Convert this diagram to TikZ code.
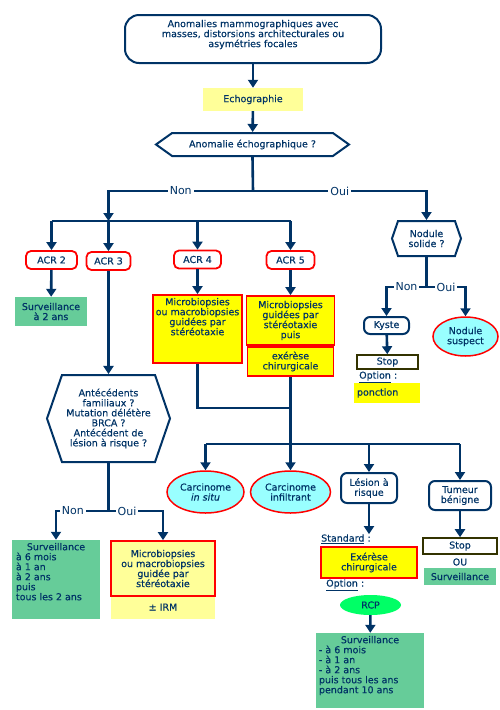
\documentclass[tikz,border=0pt]{standalone}
\usepackage{fontspec}
\setmainfont{DejaVu Sans}
\newfontfamily\boxface{DejaVu Sans}[FakeBold=0.4]
\usetikzlibrary{arrows.meta, shapes.geometric, shapes.symbols}
\definecolor{navy}{HTML}{003366}
\definecolor{lightyellow}{HTML}{FFFF99}
\definecolor{brightyellow}{HTML}{FFFF00}
\definecolor{seagreen}{HTML}{66CC99}
\definecolor{lightcyan}{HTML}{99FFFF}
\definecolor{rcpgreen}{HTML}{00FF66}
\definecolor{darkolive}{HTML}{333300}
\newcommand{\boxfont}{\boxface\fontsize{9.5}{10}\selectfont}
\newcommand{\labfont}{\fontsize{11}{12}\selectfont}

\begin{document}
\begin{tikzpicture}[x=1pt, y=-1pt,
  every node/.style={font=\boxfont, text=navy, align=center, inner sep=0pt},
  line/.style={navy, line width=2.6pt},
  arr/.style={line, -{Triangle[width=10pt,length=8pt]}},
  lab/.style={font=\labfont, fill=white, inner xsep=2pt, inner ysep=1pt},
  acrbox/.style={draw=red, line width=1.8pt, rounded corners=5pt, fill=white, minimum height=18pt},
  navybox/.style={draw=navy, line width=2pt, rounded corners=6pt, fill=white},
  redbox/.style={draw=red, line width=1.8pt, fill=brightyellow},
  hexa/.style={signal, signal to=east and west, draw=navy, line width=2pt, fill=white},
  oval/.style={ellipse, draw=red, line width=1.5pt, fill=lightcyan},
  stopbox/.style={draw=darkolive, line width=1.6pt, fill=white},
  greenbox/.style={fill=seagreen}]
  \useasboundingbox (0,0) rectangle (500,710);

  \node (top) at (253,39) [draw=navy, line width=2pt, rounded corners=14pt, minimum width=256pt, minimum height=48pt]
    {Anomalies mammographiques avec\\masses, distorsions architecturales ou\\asymétries focales\\[1pt]};
  \node (echo) at (253,99.5) [fill=lightyellow, minimum width=100pt, minimum height=23pt] {Echographie};
  \node (anom) at (252.5,144.5) [hexa, signal pointer angle=71, minimum width=193pt, minimum height=23pt] {Anomalie échographique ?};

  \node (acr2) at (51.5,260) [acrbox, minimum width=51pt] {ACR 2};
  \node (acr3) at (108.5,261) [acrbox, minimum width=44pt] {ACR 3};
  \node (acr4) at (197.5,259.5) [acrbox, minimum width=47pt] {ACR 4};
  \node (acr5) at (290.5,260) [acrbox, minimum width=48pt] {ACR 5};
  \node (nodule) at (426.5,238.5) [hexa, signal pointer angle=142, minimum width=69pt, minimum height=35pt] {Nodule\\solide ?};

  \node (surv2) at (51,311.5) [greenbox, minimum width=72pt, minimum height=29pt] {Surveillance\\à 2 ans};
  \node (micro4) at (197.5,329) [redbox, minimum width=89pt, minimum height=68pt]
    {\parbox[c][62pt][t]{85pt}{\centering Microbiopsies\\\mbox{ou macrobiopsies}\\guidées par\\stéréotaxie}};
  \node (micro5) at (290.5,320.5) [redbox, minimum width=88pt, minimum height=49pt] {Microbiopsies\\guidées par\\stéréotaxie\\puis};
  \node (exer5) at (290.5,361.5) [redbox, minimum width=86pt, minimum height=29pt] {exérèse\\chirurgicale};

  \node (kyste) at (386.5,325.5) [navybox, minimum width=45pt, minimum height=17pt] {Kyste};
  \node (suspect) at (465.5,336.5) [oval, minimum width=65pt, minimum height=39pt] {Nodule\\suspect};
  \node (stop1) at (387.5,362) [stopbox, minimum width=61pt, minimum height=14pt] {Stop};
  \node (opt1) at (359,377) [anchor=west] {\underline{Option} :};
  \node (ponct) at (387,393) [fill=brightyellow, text width=60pt, align=left, inner xsep=3pt, minimum height=20pt] {ponction};

  \node (antec) at (108.5,418.5) [hexa, signal pointer angle=142, minimum width=123pt, minimum height=87pt]
    {Antécédents\\familiaux ?\\Mutation délétère\\BRCA ?\\Antécédent de\\lésion à risque ?};

  \node (insitu) at (205.5,492) [oval, minimum width=77pt, minimum height=42pt] {Carcinome\\\textit{in situ}};
  \node (infil) at (290.5,492) [oval, minimum width=80pt, minimum height=42pt] {Carcinome\\infiltrant};
  \node (lesion) at (369,488) [navybox, minimum width=56pt, minimum height=30pt] {Lésion à\\risque};
  \node (tumeur) at (460,495.5) [navybox, minimum width=62pt, minimum height=29pt] {Tumeur\\bénigne};

  \node (std) at (321,539) [anchor=west] {\underline{Standard} :};
  \node (exer) at (369,562.5) [redbox, minimum width=96pt, minimum height=31pt] {Exérèse\\chirurgicale};
  \node (opt2) at (326,585) [anchor=west] {\underline{Option} :};
  \node (rcp) at (370.5,605) [ellipse, fill=rcpgreen, minimum width=61pt, minimum height=20pt] {RCP};
  \node (survR) at (370,670.5) [greenbox, minimum width=108pt, minimum height=75pt]
    {\parbox[c][69pt][t]{102pt}{\centering Surveillance\par\raggedright - à 6 mois\\- à 1 an\\- à 2 ans\\puis tous les ans\\pendant 10 ans}};

  \node (stop2) at (460,546) [stopbox, minimum width=74pt, minimum height=16pt] {Stop};
  \node (ou) at (460,562) {OU};
  \node (surv3) at (460,576.5) [greenbox, minimum width=72pt, minimum height=17pt] {Surveillance};

  \node (survL) at (56,579.5) [greenbox, minimum width=88pt, minimum height=79pt]
    {\parbox[c][73pt][t]{80pt}{\centering Surveillance\par\raggedright à 6 mois\\à 1 an\\à 2 ans\\puis\\tous les 2 ans}};
  \node (irm) at (163,607.5) [fill=lightyellow, minimum width=104pt, minimum height=23pt] {\\[-4pt]± IRM};
  \node (microL) at (163,568.5) [draw=red, line width=1.8pt, fill=lightyellow, minimum width=104pt, minimum height=55pt]
    {Microbiopsies\\ou macrobiopsies\\guidée par\\stéréotaxie};

  \coordinate (split) at (253,191);
  \coordinate (acrbar) at (0,221);
  \coordinate (join) at (290.5,408);
  \coordinate (carcbar) at (0,444);
  \coordinate (nsplit) at (426.5,287);
  \coordinate (asplit) at (108.5,511);

  \draw[arr] (top) -- (echo);
  \draw[arr] (echo) -- (anom);
  \draw[line] (anom.south) -- (split);
  \draw[arr] (split) -| node[lab, pos=0.25] {Non} (acr3 |- acrbar);
  \draw[arr] (split) -| node[lab, pos=0.25] {Oui} (nodule.north);
  \draw[line] (acr2 |- acrbar) -- (acr5 |- acrbar);
  \foreach \n in {acr2, acr3, acr4, acr5}
    \draw[arr] (\n |- acrbar) -- (\n.north);

  \draw[arr] (acr2) -- (surv2);
  \draw[arr] (acr3) -- (antec);
  \draw[arr] (acr4) -- (micro4);
  \draw[arr] (acr5) -- (micro5);
  \draw[line] (micro4.south) |- (join);
  \draw[arr] (exer5) -- (infil);
  \draw[line] (insitu |- carcbar) -- (tumeur |- carcbar);
  \foreach \n in {insitu, lesion, tumeur}
    \draw[arr] (\n |- carcbar) -- (\n.north);

  \draw[line] (nodule.south) -- (nsplit);
  \draw[arr] (nsplit) -| node[lab, pos=0.25] {Non} (kyste.north);
  \draw[arr] (nsplit) -| node[lab, pos=0.25] {Oui} (suspect.north);
  \draw[arr] (kyste) -- (stop1);

  \draw[line] (antec.south) -- (asplit);
  \draw[arr] (asplit) -| node[lab, pos=0.34] {Non} (survL.north);
  \draw[arr] (asplit) -| node[lab, pos=0.17] {Oui} (microL.north);

  \draw[arr] (lesion) -- (lesion |- std.north);
  \draw[arr] (rcp) -- (survR);
  \draw[arr] (tumeur) -- (stop2);
\end{tikzpicture}
\end{document}
